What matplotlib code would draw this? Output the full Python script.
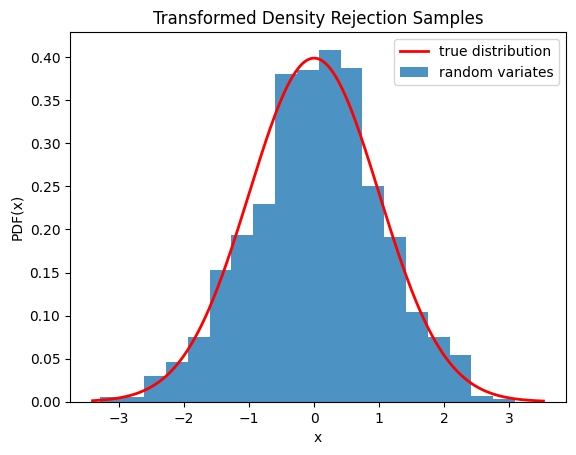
import matplotlib
matplotlib.use('Agg')
import matplotlib.pyplot as plt
import numpy as np

# histogram (density-normalised)
bin_start = -3.29
bin_width = 0.336
heights = [0.0058, 0.0058, 0.030, 0.0457, 0.0755, 0.1525, 0.194, 0.230,
           0.380, 0.385, 0.4087, 0.388, 0.251, 0.1916, 0.1045, 0.0755,
           0.0546, 0.0066, 0.0035, 0.0]

# range of the true-distribution curve
x_min, x_max = -3.41, 3.53


def normal_pdf(x):
    return np.exp(-0.5 * x**2) / np.sqrt(2 * np.pi)


edges = bin_start + bin_width * np.arange(len(heights) + 1)
centers = (edges[:-1] + edges[1:]) / 2

fig, ax = plt.subplots(figsize=(6.4, 4.8))
x = np.linspace(x_min, x_max, 500)
ax.plot(x, normal_pdf(x), 'r-', lw=2, label='true distribution')
ax.hist(centers, bins=edges, weights=heights, alpha=0.8, label='random variates')
ax.set_title('Transformed Density Rejection Samples')
ax.set_xlabel('x')
ax.set_ylabel('PDF(x)')
ax.legend()

plt.savefig('out.png', dpi=100, bbox_inches='tight')
plt.close()
